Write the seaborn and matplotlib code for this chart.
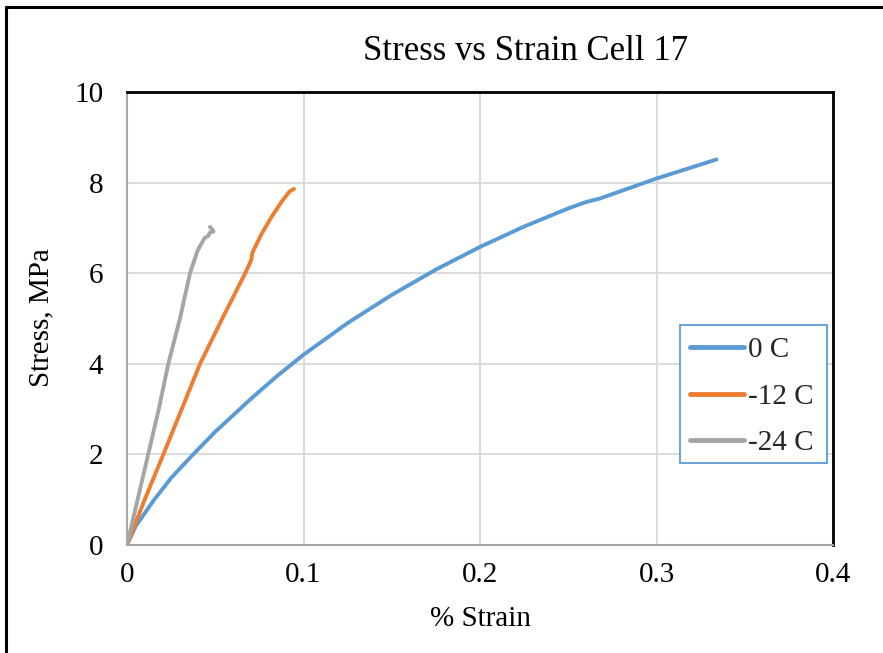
import numpy as np
import pandas as pd
import matplotlib
matplotlib.use("Agg")
import matplotlib.pyplot as plt
import seaborn as sns
from matplotlib.lines import Line2D
from matplotlib.patches import Rectangle

# Data
strain_0c = [0.0, 0.005, 0.015, 0.025, 0.037, 0.05, 0.07, 0.085, 0.1, 0.125,
             0.15, 0.175, 0.2, 0.225, 0.25, 0.26, 0.268, 0.3, 0.334]
stress_0c = [0.0, 0.42, 0.98, 1.48, 1.98, 2.5, 3.22, 3.73, 4.2, 4.9,
             5.52, 6.08, 6.58, 7.03, 7.43, 7.57, 7.65, 8.09, 8.51]

strain_m12 = [0.0, 0.01, 0.0206, 0.031, 0.0414, 0.054, 0.067, 0.0705, 0.071, 0.076, 0.082, 0.088, 0.092, 0.0946]
stress_m12 = [0.0, 1.0, 2.0, 3.0, 4.0, 5.0, 6.0, 6.3, 6.45, 6.85, 7.25, 7.6, 7.8, 7.86]

strain_m24 = [0.0, 0.006, 0.012, 0.018, 0.0234, 0.03, 0.0357, 0.04, 0.044, 0.046, 0.047, 0.049, 0.048, 0.047]
stress_m24 = [0.0, 1.0, 2.0, 3.0, 4.0, 5.0, 6.0, 6.5, 6.78, 6.82, 6.9, 6.92, 6.98, 7.02]

series_names = ["0 C", "-12 C", "-24 C"]
colors = ["#5B9BD5", "#ED7D31", "#A5A5A5"]
x_ticks = [0, 0.1, 0.2, 0.3, 0.4]
x_tick_labels = ["0", "0.1", "0.2", "0.3", "0.4"]
y_ticks = [0, 2, 4, 6, 8, 10]

frames = []
for name, xs, ys in zip(series_names, [strain_0c, strain_m12, strain_m24], [stress_0c, stress_m12, stress_m24]):
    frames.append(pd.DataFrame({"strain": xs, "stress": ys, "series": name}))
df = pd.concat(frames, ignore_index=True)

sns.set_theme(style="white")
plt.rcParams["font.family"] = ["Liberation Serif", "DejaVu Serif"]

W, H = 883, 653
fig = plt.figure(figsize=(W / 100, H / 100), dpi=100)
ax = fig.add_axes([127 / W, 1 - 545 / H, (833 - 127) / W, (545 - 92) / H])

sns.lineplot(data=df, x="strain", y="stress", hue="series", hue_order=series_names,
             palette=colors, sort=False, estimator=None, units="series",
             linewidth=2.8, ax=ax, legend=False)
for line in ax.get_lines():
    line.set_solid_capstyle("round")
    line.set_solid_joinstyle("round")

ax.set_xlim(0, 0.4)
ax.set_ylim(0, 10)
ax.set_xticks(x_ticks)
ax.set_xticklabels(x_tick_labels)
ax.set_yticks(y_ticks)
ax.grid(True, color="#D9D9D9", linewidth=1.3)
ax.set_axisbelow(True)
ax.tick_params(axis="x", length=0, labelsize=21, colors="black", pad=12)
ax.tick_params(axis="y", length=0, labelsize=21, colors="black", pad=17)
for side in ["left", "bottom"]:
    ax.spines[side].set_color("#A6A6A6")
    ax.spines[side].set_linewidth(1.5)
for side in ["top", "right"]:
    ax.spines[side].set_color("black")
    ax.spines[side].set_linewidth(2.0)

ax.set_xlabel("% Strain", fontsize=21, color="black")
ax.set_ylabel("Stress, MPa", fontsize=21, color="black")
ax.xaxis.set_label_coords((480 - 127) / 706, (545 - 619) / 453)
ax.xaxis.label.set_verticalalignment("center")
ax.yaxis.set_label_coords((41 - 127) / 706, (545 - 318) / 453)
ax.yaxis.label.set_verticalalignment("center")

fig.text(526 / W, 1 - 60 / H, "Stress vs Strain Cell 17", ha="center", va="baseline",
         fontsize=25, color="black")

# Legend box
fig.add_artist(Rectangle((680 / W, 1 - 463 / H), (827 - 680) / W, (463 - 325) / H,
                         transform=fig.transFigure, facecolor="white", edgecolor="#5B9BD5",
                         linewidth=1.3, zorder=5))
handles = [Line2D([0], [0], color=c, linewidth=3.5, solid_capstyle="round") for c in colors]
leg = fig.legend(handles, series_names, loc="upper left",
                 bbox_to_anchor=(690 / W, 1 - 337 / H), bbox_transform=fig.transFigure,
                 fontsize=21, frameon=False, handlelength=1.85,
                 handletextpad=0.15, labelspacing=0.69, borderpad=0, borderaxespad=0)
leg.set_zorder(6)

# Outer chart border (left and top visible)
fig.add_artist(Line2D([6 / W, 6 / W], [0, 1 - 7 / H], transform=fig.transFigure, color="black", linewidth=2.2))
fig.add_artist(Line2D([6 / W, 1], [1 - 7 / H, 1 - 7 / H], transform=fig.transFigure, color="black", linewidth=2.2))

fig.savefig("out.png", dpi=100, facecolor="white")
